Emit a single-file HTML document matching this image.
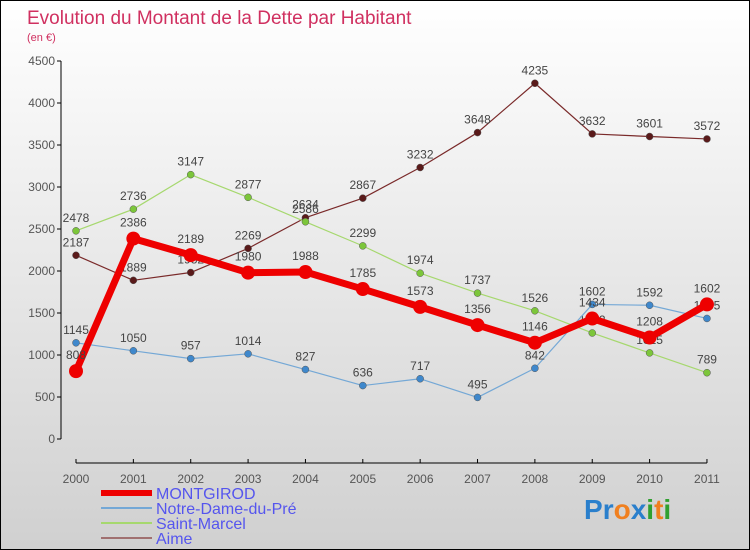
<!DOCTYPE html>
<html><head><meta charset="utf-8"><style>
body{margin:0;}
#c{width:748px;height:548px;border:1px solid #000;background:linear-gradient(#ffffff,#d0d0d0);position:relative;overflow:hidden;font-family:"Liberation Sans",sans-serif;}
</style></head><body>
<div id="c">
<svg id="s" width="748" height="548">
<text x="26" y="23" font-size="19" fill="#d03060">Evolution du Montant de la Dette par Habitant</text>
<text x="26" y="40" font-size="11" fill="#d03060">(en €)</text>
</svg>
</div>
<script>
const years=["2000","2001","2002","2003","2004","2005","2006","2007","2008","2009","2010","2011"];
const montgirod=[808,2386,2189,1980,1988,1785,1573,1356,1146,1434,1208,1602];
const notreDame=[1145,1050,957,1014,827,636,717,495,842,1602,1592,1435];
const saintMarcel=[2478,2736,3147,2877,2586,2299,1974,1737,1526,1262,1025,789];
const aime=[2187,1889,1982,2269,2634,2867,3232,3648,4235,3632,3601,3572];
const yTicks=[0,500,1000,1500,2000,2500,3000,3500,4000,4500];
const NS="http://www.w3.org/2000/svg";
const s=document.getElementById('s');
const X=i=>75+i*57.36, Y=v=>438-v*0.084;
function el(t,a,p){const e=document.createElementNS(NS,t);for(const k in a)e.setAttribute(k,a[k]);(p||s).appendChild(e);return e;}
let ax=el('line',{x1:60,y1:Y(4500),x2:60,y2:Y(0),stroke:'#000'});


yTicks.forEach(v=>{el('line',{x1:56,y1:Y(v),x2:60,y2:Y(v),stroke:'#000'});
 const t=el('text',{x:54,y:Y(v)+4,'font-size':12,fill:'#555','text-anchor':'end'});t.textContent=v;
 
 });
let bx=el('line',{x1:75,y1:462,x2:X(11),y2:462,stroke:'#000'});


years.forEach((y,i)=>{el('line',{x1:X(i),y1:458,x2:X(i),y2:462,stroke:'#000'});
 const t=el('text',{x:X(i),y:482,'font-size':12,fill:'#555','text-anchor':'middle'});t.textContent=y;
 
 });
const series=[
 {d:aime,c:'#7a2a2a',p:'#5a1a1a',w:1.2,r:3.5,n:'aime'},
 {d:saintMarcel,c:'#a6d86e',p:'#7cc63a',w:1.2,r:3.5,n:'saint-marcel'},
 {d:notreDame,c:'#74a8d6',p:'#3f88cc',w:1.2,r:3.5,n:'notre-dame-du-pre'},
 {d:montgirod,c:'#ee0000',p:'#ee0000',w:7,r:7,n:'montgirod'}];
series.forEach(S=>{
 const l=el('polyline',{points:S.d.map((v,i)=>X(i)+','+Y(v)).join(' '),fill:'none',stroke:S.c,'stroke-width':S.w,'stroke-linejoin':'round'});
 
 
 S.d.forEach((v,i)=>{const c=el('circle',{cx:X(i),cy:Y(v),r:S.r,fill:S.p,stroke:'#555','stroke-width':S.r>5?0:0.5});
  
  
  const t=el('text',{x:X(i),y:Y(v)-(S.r>5?12:9),'font-size':12,fill:'#444','text-anchor':'middle'});t.textContent=v;
  
  });
});
const leg=[['MONTGIROD','#ee0000',6],['Notre-Dame-du-Pré','#74a8d6',2],['Saint-Marcel','#a6d86e',2],['Aime','#a07070',2]];
leg.forEach((L,i)=>{const y=492+i*15;
 const r=el('rect',{x:100,y:y-L[2]/2,width:51,height:L[2],fill:L[1]});
 
 
 const t=el('text',{x:155,y:y+6,'font-size':16,fill:'#5555ee'});t.textContent=L[0];
 
 });
const lg=el('text',{x:583,y:518,'font-size':28,'font-weight':'bold'});


[['P','#2a7fcc'],['r','#2a7fcc'],['o','#f08020'],['x','#2a7fcc'],['i','#30a030'],['t','#f08020'],['i','#30a030']].forEach(a=>{const ts=el('tspan',{fill:a[1]},lg);ts.textContent=a[0];});
</script>
</body></html>
